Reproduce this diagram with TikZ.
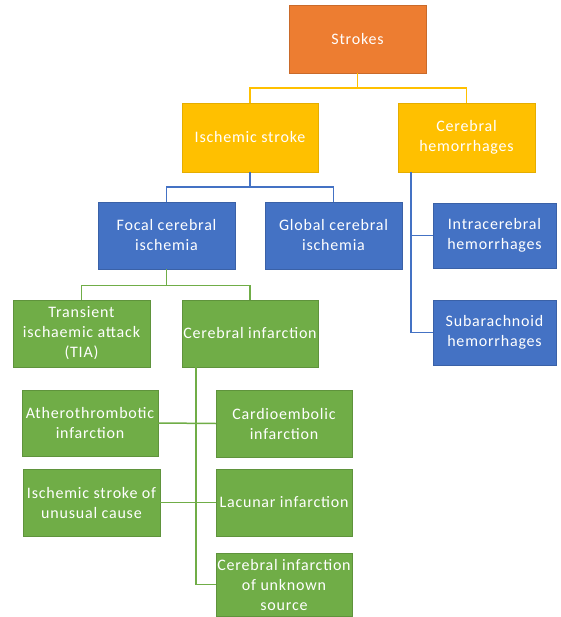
\documentclass[tikz,border=0pt]{standalone}
\usepackage{fontspec}
\setmainfont{Carlito}[LetterSpace=5]
\usetikzlibrary{calc}
\definecolor{cOrange}{HTML}{ED7D31}
\definecolor{cGold}{HTML}{FFC000}
\definecolor{cBlue}{HTML}{4472C4}
\definecolor{cGreen}{HTML}{70AD47}
\tikzset{
  box/.style={inner sep=0pt, align=center, text=white, font=\fontsize{16}{20}\selectfont, anchor=center},
  orangebox/.style={box, fill=cOrange, draw=cOrange!85!black, line width=0.5pt},
  goldbox/.style={box, fill=cGold, draw=cGold!90!black, line width=0.5pt},
  bluebox/.style={box, fill=cBlue, draw=cBlue!85!black, line width=0.5pt},
  greenbox/.style={box, fill=cGreen, draw=cGreen!85!black, line width=0.5pt},
  goldline/.style={draw=cGold, line width=1.5pt},
  blueline/.style={draw=cBlue, line width=1.5pt},
  greenline/.style={draw=cGreen, line width=1.5pt},
}
\begin{document}
\begin{tikzpicture}[x=1pt,y=1pt]
\useasboundingbox[fill=white] (0,0) rectangle (560,-617);
% nodes
\node[orangebox, minimum width=137, minimum height=68] (S) at (357.5,-39) {Strokes};
\node[goldbox, minimum width=136, minimum height=69] (IS) at (250,-137.5) {Ischemic stroke};
\node[goldbox, minimum width=137, minimum height=69] (CH) at (466.5,-137.5) {Cerebral\\hemorrhages};
\node[bluebox, minimum width=137, minimum height=67] (FC) at (166.5,-235.5) {Focal cerebral\\ischemia};
\node[bluebox, minimum width=137, minimum height=67] (GC) at (333.5,-235.5) {Global cerebral\\ischemia};
\node[bluebox, minimum width=123, minimum height=65] (IH) at (494.5,-235.5) {Intracerebral\\hemorrhages};
\node[bluebox, minimum width=123, minimum height=65] (SH) at (494.5,-332.5) {Subarachnoid\\hemorrhages};
\node[greenbox, minimum width=137, minimum height=67] (TIA) at (81.5,-333.5) {Transient\\ischaemic attack\\(TIA)};
\node[greenbox, minimum width=136, minimum height=67] (CI) at (250,-333.5) {Cerebral infarction};
\node[greenbox, minimum width=136, minimum height=66] (AI) at (90,-423) {Atherothrombotic\\infarction};
\node[greenbox, minimum width=136, minimum height=67] (CE) at (284,-423.5) {Cardioembolic\\infarction};
\node[greenbox, minimum width=137, minimum height=67] (US) at (91.5,-502.5) {Ischemic stroke of\\unusual cause};
\node[greenbox, minimum width=136, minimum height=67] (LI) at (284,-502.5) {Lacunar infarction};
\node[greenbox, minimum width=136, minimum height=63] (UK) at (284,-584.5) {Cerebral infarction\\of unknown\\source};
% connectors
\draw[goldline] (S.south) -- ++(0,-15) -| (IS.north);
\draw[goldline] (S.south) -- ++(0,-15) -| (CH.north);
\draw[blueline] (IS.south) -- ++(0,-15) -| (FC.north);
\draw[blueline] (IS.south) -- ++(0,-15) -| (GC.north);
\coordinate (CHd) at ($(CH.south west)+(13,0)$);
\draw[blueline] (CHd) |- (IH.west);
\draw[blueline] (CHd) |- (SH.west);
\draw[greenline] (FC.south) -- ++(0,-16) -| (TIA.north);
\draw[greenline] (FC.south) -- ++(0,-16) -| (CI.north);
\coordinate (CId) at ($(CI.south west)+(14,0)$);
\draw[greenline] (CId) |- (UK.west);
\draw[greenline] (AI.east) -- (CE.west);
\draw[greenline] (US.east) -- (LI.west);
\end{tikzpicture}
\end{document}
